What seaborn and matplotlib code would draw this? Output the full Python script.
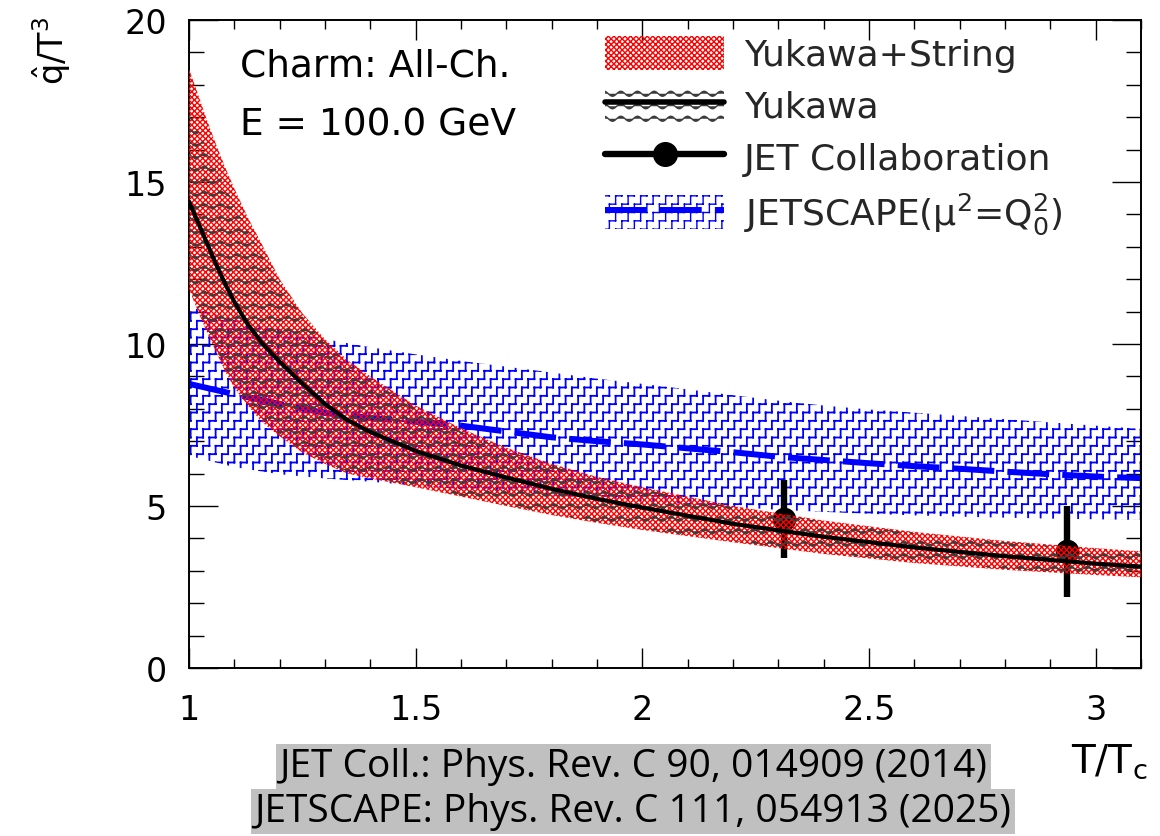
import warnings
import numpy as np
import pandas as pd
import matplotlib
matplotlib.use("Agg")
import matplotlib.pyplot as plt
import matplotlib.hatch as mhatch
from matplotlib.path import Path
from matplotlib.patches import Patch
from matplotlib.lines import Line2D
from matplotlib.legend_handler import HandlerTuple
from matplotlib.ticker import MultipleLocator
import seaborn as sns

warnings.filterwarnings("ignore")

# ---------------------------------------------------------------------------
# q-hat / T^3 versus T/Tc for charm quarks, E = 100 GeV
# ---------------------------------------------------------------------------
t_model = [1.00, 1.02, 1.04, 1.06, 1.08, 1.10, 1.13, 1.16, 1.20, 1.25, 1.30,
           1.35, 1.40, 1.50, 1.60, 1.70, 1.80, 1.90, 2.00, 2.20, 2.40, 2.60,
           2.80, 3.00, 3.10]

# Yukawa + string potential band
yuk_str_hi = [18.5, 17.7, 16.9, 16.15, 15.45, 14.8, 13.9, 13.1, 12.0, 10.95,
              10.15, 9.5, 9.0, 8.1, 7.4, 6.8, 6.3, 5.9, 5.58, 5.0, 4.55, 4.2,
              3.92, 3.7, 3.6]
yuk_str_lo = [11.7, 11.0, 10.35, 9.75, 9.15, 8.65, 8.1, 7.6, 7.15, 6.65, 6.3,
              6.0, 5.85, 5.58, 5.29, 5.0, 4.72, 4.48, 4.26, 3.88, 3.52, 3.24,
              3.03, 2.87, 2.8]

# Yukawa-only band and its central curve
yukawa_hi = [17.2, 16.6, 16.0, 15.4, 14.85, 14.3, 13.5, 12.75, 11.85, 10.85,
             10.05, 9.4, 8.9, 8.0, 7.3, 6.72, 6.24, 5.85, 5.52, 4.96, 4.51,
             4.16, 3.88, 3.66, 3.57]
yukawa_lo = [11.8, 11.1, 10.45, 9.85, 9.25, 8.75, 8.2, 7.7, 7.22, 6.72, 6.36,
             6.06, 5.9, 5.62, 5.33, 5.04, 4.76, 4.52, 4.3, 3.92, 3.56, 3.28,
             3.07, 2.91, 2.84]
yukawa_mid = [14.4, 13.75, 13.1, 12.45, 11.85, 11.3, 10.6, 10.05, 9.45, 8.78,
              8.15, 7.65, 7.28, 6.7, 6.25, 5.88, 5.53, 5.22, 4.95, 4.45, 4.05,
              3.72, 3.45, 3.22, 3.13]

# JETSCAPE extraction
t_jetscape = [1.0, 1.1, 1.2, 1.3, 1.4, 1.5, 1.6, 1.7, 1.8, 1.9, 2.0, 2.1, 2.2,
              2.3, 2.4, 2.5, 2.6, 2.7, 2.8, 2.9, 3.0, 3.1]
jetscape_mid = [8.77, 8.45, 8.15, 7.87, 7.72, 7.6, 7.48, 7.3, 7.12, 7.0, 6.9,
                6.78, 6.66, 6.52, 6.42, 6.32, 6.23, 6.15, 6.06, 5.98, 5.91, 5.86]
jetscape_hi = [11.15, 10.75, 10.45, 10.15, 9.9, 9.68, 9.48, 9.3, 9.12, 8.93,
               8.77, 8.6, 8.42, 8.25, 8.1, 7.98, 7.88, 7.78, 7.68, 7.58, 7.48,
               7.38]
jetscape_lo = [6.55, 6.2, 5.98, 5.85, 5.75, 5.63, 5.52, 5.42, 5.33, 5.24, 5.15,
               5.06, 4.97, 4.88, 4.82, 4.76, 4.71, 4.67, 4.64, 4.61, 4.59, 4.57]

# JET Collaboration (RHIC / LHC)
jet_t = [2.3125, 2.9375]
jet_val = [4.6, 3.6]
jet_err = [1.2, 1.4]

x_ticks = [1, 1.5, 2, 2.5, 3]
x_ticklabels = ["1", "1.5", "2", "2.5", "3"]
y_ticks = [0, 5, 10, 15, 20]
y_ticklabels = ["0", "5", "10", "15", "20"]

labels = ["Yukawa+String", "Yukawa", "JET Collaboration",
          r"JETSCAPE($\mathregular{\mu^{2}}$=$\mathregular{Q_{0}^{2}}$)"]
info_lines = ["Charm: All-Ch.", "E = 100.0 GeV"]
refs = ["JET Coll.: Phys. Rev. C 90, 014909 (2014)",
        "JETSCAPE: Phys. Rev. C 111, 054913 (2025)"]


# ---------------------------------------------------------------------------
# extra fill patterns: staircase ('z') and wavy lines ('~')
# ---------------------------------------------------------------------------
def _wrap_segments(segs):
    """Add shifted copies so the tile repeats seamlessly."""
    out = []
    for (x0, y0), (x1, y1) in segs:
        for dx in (0.0, -1.0):
            for dy in (0.0, -1.0):
                if dx and max(x0, x1) <= 1.0:
                    continue
                if dy and max(y0, y1) <= 1.0:
                    continue
                out.append(((x0 + dx, y0 + dy), (x1 + dx, y1 + dy)))
    return out


class StairHatch(mhatch.HatchPatternBase):
    def __init__(self, hatch, density):
        self.segs = []
        if hatch.count('z'):
            cols, rows, every = 16, 12, 2
            h, v = 1.0 / cols, 1.0 / rows
            segs = []
            for j in range(0, cols, every):
                for i in range(rows):
                    xs = ((j + i) % cols + 0.5) * h
                    ys = (i + 0.5) * v
                    segs.append(((xs, ys), (xs + h, ys)))
                    segs.append(((xs + h, ys), (xs + h, ys + v)))
            self.segs = _wrap_segments(segs)
        self.num_vertices = 2 * len(self.segs)

    def set_vertices_and_codes(self, vertices, codes):
        for k, (p0, p1) in enumerate(self.segs):
            vertices[2 * k] = p0
            vertices[2 * k + 1] = p1
            codes[2 * k] = Path.MOVETO
            codes[2 * k + 1] = Path.LINETO


class WaveHatch(mhatch.HatchPatternBase):
    def __init__(self, hatch, density):
        n = hatch.count('~')
        self.rows = 8 * n
        self.waves = 6
        self.npts = self.waves * 16 + 1
        self.num_vertices = self.rows * self.npts if n else 0

    def set_vertices_and_codes(self, vertices, codes):
        t = np.linspace(0.0, 1.0, self.npts)
        amp = 0.2 / self.rows
        for i in range(self.rows):
            y0 = (i + 0.5) / self.rows
            sl = slice(i * self.npts, (i + 1) * self.npts)
            vertices[sl, 0] = t
            vertices[sl, 1] = y0 + amp * np.sin(2 * np.pi * self.waves * t)
            codes[sl] = Path.LINETO
            codes[i * self.npts] = Path.MOVETO


mhatch._hatch_types.extend([StairHatch, WaveHatch])

# ---------------------------------------------------------------------------
sns.set_theme(style="ticks")
plt.rcParams["font.family"] = ["DejaVu Sans"]
plt.rcParams["mathtext.fontset"] = "dejavusans"
plt.rcParams["hatch.linewidth"] = 1.0

RED = "#ff0000"
BLUE = "#0000ff"
WAVE = "#3c3c3c"
RED_HATCH, RED_LW = "xxxxxx", 1.0
WAVE_HATCH, WAVE_LW = "~", 0.75
BLUE_HATCH, BLUE_LW = "z", 1.3

fig = plt.figure(figsize=(11.6, 8.37), dpi=100)
fig.patch.set_facecolor("white")
ax = fig.add_axes([189 / 1160, 168 / 837, 952 / 1160, 648 / 837])
ax.set_facecolor("white")


def band(x, lo, hi, color, hatch, hlw, z):
    with plt.rc_context({"hatch.linewidth": hlw}):
        coll = ax.fill_between(x, lo, hi, facecolor="none", edgecolor=color,
                               linewidth=0, hatch=hatch, zorder=z)
    if hasattr(coll, "set_hatch_linewidth"):
        coll.set_hatch_linewidth(hlw)
    return coll


def proxy(color, hatch, hlw):
    with plt.rc_context({"hatch.linewidth": hlw}):
        p = Patch(facecolor="none", edgecolor=color, linewidth=0, hatch=hatch)
    if hasattr(p, "set_hatch_linewidth"):
        p.set_hatch_linewidth(hlw)
    return p


# JETSCAPE band and central dashed curve
band(t_jetscape, jetscape_lo, jetscape_hi, BLUE, BLUE_HATCH, BLUE_LW, 1)
df_js = pd.DataFrame({"T": t_jetscape, "q": jetscape_mid})
sns.lineplot(data=df_js, x="T", y="q", ax=ax, color=BLUE, linewidth=4.3,
             estimator=None, sort=False, legend=False, zorder=2)
ax.lines[-1].set_linestyle((0, (7, 2.2)))

# JET Collaboration points
ax.errorbar(jet_t, jet_val, yerr=jet_err, fmt="none", ecolor="black",
            elinewidth=4.6, capsize=0, zorder=2.5)
df_jet = pd.DataFrame({"T": jet_t, "q": jet_val})
sns.scatterplot(data=df_jet, x="T", y="q", ax=ax, color="black", s=17 ** 2,
                linewidth=0, legend=False, zorder=2.6)

# Yukawa+String and Yukawa bands, Yukawa central curve
band(t_model, yuk_str_lo, yuk_str_hi, RED, RED_HATCH, RED_LW, 3)
band(t_model, yukawa_lo, yukawa_hi, WAVE, WAVE_HATCH, WAVE_LW, 3.5)
df_yk = pd.DataFrame({"T": t_model, "q": yukawa_mid})
sns.lineplot(data=df_yk, x="T", y="q", ax=ax, color="black", linewidth=3.0,
             estimator=None, sort=False, legend=False, zorder=4)

# axes, ticks
ax.set_xlim(1, 3.1)
ax.set_ylim(0, 20)
ax.set_xticks(x_ticks)
ax.set_xticklabels(x_ticklabels)
ax.set_yticks(y_ticks)
ax.set_yticklabels(y_ticklabels)
ax.xaxis.set_minor_locator(MultipleLocator(0.1))
ax.yaxis.set_minor_locator(MultipleLocator(1))
ax.set_xlabel("")
ax.set_ylabel("")
for s in ax.spines.values():
    s.set_visible(True)
    s.set_linewidth(1.4)
    s.set_color("black")
ax.tick_params(axis="both", which="both", direction="in", top=True,
               right=True, color="black", width=1.0, labelsize=24,
               labelcolor="black")
ax.tick_params(axis="x", which="major", length=14.4, pad=18)
ax.tick_params(axis="x", which="minor", length=6.5)
ax.tick_params(axis="y", which="major", length=21, pad=16)
ax.tick_params(axis="y", which="minor", length=10.8)

# annotations
ax.text(0.054, 0.9136, info_lines[0], transform=ax.transAxes, fontsize=27,
        va="baseline", ha="left", color="black")
ax.text(0.054, 0.824, info_lines[1], transform=ax.transAxes, fontsize=27,
        va="baseline", ha="left", color="black")

fig.text(52 / 1160, 1 - 17 / 837, r"$\mathregular{\hat{q}/T^{3}}$",
         rotation=90, ha="center", va="top", fontsize=24, color="black")
fig.text(1147 / 1160, 1 - 742 / 837, r"$\mathregular{T/T_{c}}$",
         ha="right", va="top", fontsize=28, color="black")

# legend
h_ys = proxy(RED, RED_HATCH, RED_LW)
h_yk = (proxy(WAVE, WAVE_HATCH, WAVE_LW),
        Line2D([], [], color="black", lw=4.0))
h_jet = Line2D([], [], color="black", lw=4.6, marker="o", markersize=17)
h_js = (proxy(BLUE, BLUE_HATCH, BLUE_LW),
        Line2D([], [], color=BLUE, lw=4.3, linestyle=(0, (7, 2.2))))
ax.legend([h_ys, h_yk, h_jet, h_js], labels,
          handler_map={tuple: HandlerTuple(ndivide=1, pad=0)},
          loc="upper left", bbox_to_anchor=(0.437, 0.976), frameon=False,
          fontsize=26, borderpad=0, borderaxespad=0, handlelength=3.3,
          handleheight=1.1, labelspacing=0.42, handletextpad=0.55)

# references below the plot
fig.text(633 / 1160, 1 - 767 / 837, refs[0], ha="center", va="center",
         fontsize=28, family="Open Sans", color="black",
         bbox=dict(facecolor="#c0c0c0", edgecolor="none", pad=2.5))
fig.text(633 / 1160, 1 - 812 / 837, refs[1], ha="center", va="center",
         fontsize=28, family="Open Sans", color="black",
         bbox=dict(facecolor="#c0c0c0", edgecolor="none", pad=2.5))

fig.savefig("out.png", dpi=100, facecolor="white")
